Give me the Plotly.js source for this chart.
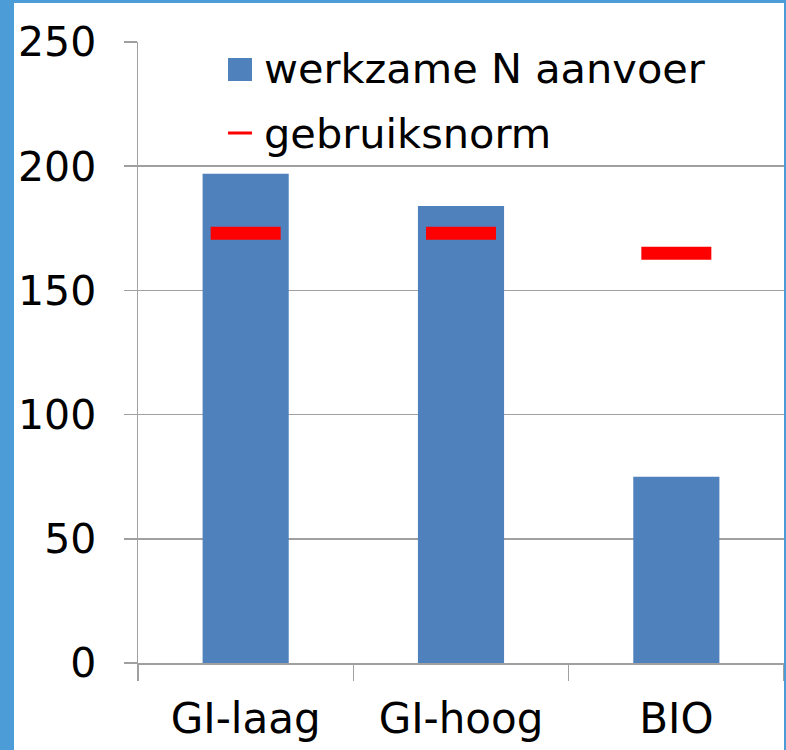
<!DOCTYPE html>
<html>
<head>
<meta charset="utf-8">
<script src="https://cdn.plot.ly/plotly-3.0.1.min.js"></script>
<style>
  html, body { margin:0; padding:0; background:#4C9CD8; width:786px; height:750px; overflow:hidden; }
  #chart { position:absolute; left:14px; top:3px; width:770px; height:747px; background:#fff; }
</style>
</head>
<body>
<div id="chart"></div>
<script>
const categories = ["GI-laag", "GI-hoog", "BIO"];
const aanvoer = [197, 184, 75];
const norm = [173, 173, 165];
const seriesNames = ["werkzame N aanvoer", "gebruiksnorm"];
const yTicks = [0, 50, 100, 150, 200, 250];

const FONT = "DejaVu Sans, Verdana, sans-serif";
const BLUE = "#4F81BD";
const RED = "#FF0000";

// plot area in page px: x 138..784, y 42..663
function px(x) { return (x - 138) / 646; }
function py(y) { return (663 - y) / 621; }

const traces = [
  {
    type: "bar", x: categories, y: aanvoer, name: seriesNames[0],
    marker: { color: BLUE }, width: 0.4, showlegend: false, hoverinfo: "x+y"
  },
  {
    type: "scatter", mode: "markers", x: categories, y: norm, name: seriesNames[1],
    marker: { symbol: "line-ew", size: 50, color: RED, line: { color: RED, width: 13 } },
    showlegend: false, hoverinfo: "x+y"
  }
];

const layout = {
  width: 770, height: 747,
  margin: { l: 124, r: 0, t: 39, b: 87 },
  paper_bgcolor: "#ffffff", plot_bgcolor: "#ffffff",
  font: { family: FONT, size: 41, color: "#000" },
  showlegend: false,
  bargap: 0.6,
  xaxis: {
    type: "category", tickson: "boundaries", ticks: "outside", ticklen: 16,
    tickcolor: "#a0a0a0", tickwidth: 1.5,
    showline: true, linecolor: "#a0a0a0", linewidth: 1.5,
    showgrid: false, zeroline: false,
    tickfont: { family: FONT, size: 42, color: "#000" },
    ticklabelstandoff: 18,
    fixedrange: true
  },
  yaxis: {
    range: [0, 250], tickvals: yTicks, ticktext: yTicks.map(String),
    ticks: "outside", ticklen: 13, tickcolor: "#a0a0a0", tickwidth: 1.5,
    showline: true, linecolor: "#a0a0a0", linewidth: 1.5,
    showgrid: true, gridcolor: "#a0a0a0", gridwidth: 1.5,
    zeroline: false,
    tickfont: { family: FONT, size: 41, color: "#000" },
    ticklabelstandoff: 19,
    fixedrange: true
  },
  shapes: [
    { type: "rect", xref: "paper", yref: "paper", xsizemode: "pixel", ysizemode: "pixel",
      xanchor: px(240), yanchor: py(69.5), x0: -12, x1: 12, y0: -11.5, y1: 11.5,
      fillcolor: BLUE, line: { width: 0 } },
    { type: "rect", xref: "paper", yref: "paper", xsizemode: "pixel", ysizemode: "pixel",
      xanchor: px(240), yanchor: py(133), x0: -12, x1: 12, y0: -1.5, y1: 1.5,
      fillcolor: RED, line: { width: 0 } }
  ],
  annotations: [
    { xref: "paper", yref: "paper", x: px(262), y: py(69), xanchor: "left", yanchor: "middle",
      text: seriesNames[0], showarrow: false, font: { family: FONT, size: 41.5, color: "#000" } },
    { xref: "paper", yref: "paper", x: px(262), y: py(133), xanchor: "left", yanchor: "middle",
      text: seriesNames[1], showarrow: false, font: { family: FONT, size: 41.5, color: "#000" } }
  ]
};

Plotly.newPlot("chart", traces, layout, { displayModeBar: false, staticPlot: true });
</script>
</body>
</html>
